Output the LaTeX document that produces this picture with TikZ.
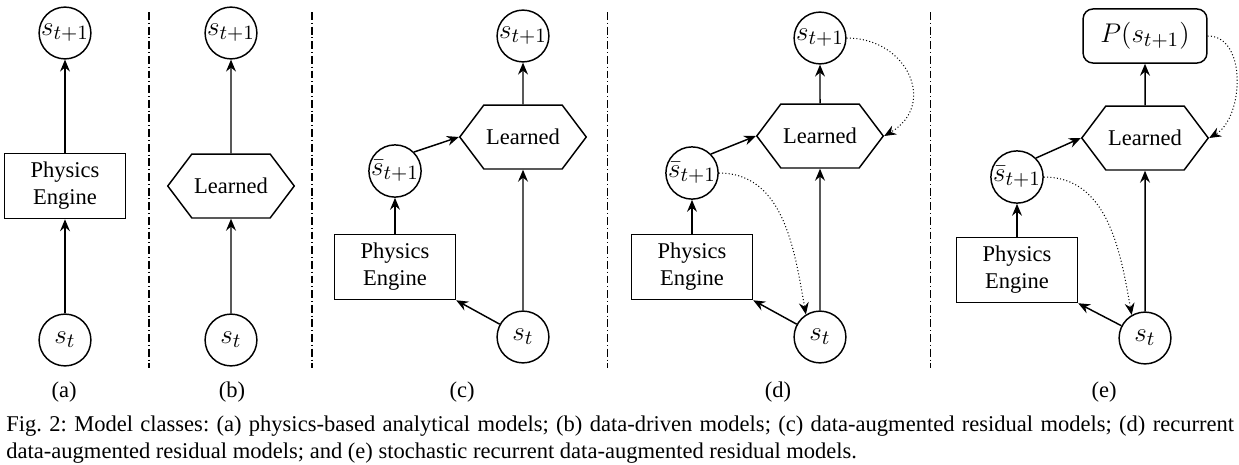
\documentclass[tikz,border=0pt]{standalone}
\usepackage{amsmath}
\usepackage{amssymb}
\usepackage{fontspec}
\setmainfont{Liberation Serif}
\usetikzlibrary{arrows.meta,shapes.symbols}

\begin{document}
\frenchspacing
\begin{tikzpicture}[x=0.444pt, y=0.444pt,
  >={Stealth[length=5.3pt, width=4.4pt, inset=1.8pt]},
  every node/.style={font=\fontsize{10}{12}\selectfont},
  state/.style={circle, draw, line width=0.65pt, minimum size=23pt, inner sep=0pt, font=\fontsize{13}{15}\selectfont},
  engine/.style={rectangle, draw, line width=0.65pt, minimum width=53.7pt, minimum height=28.9pt, align=center, inner sep=1pt},
  learned/.style={signal, signal to=east and west, signal pointer angle=106, draw, line width=0.65pt, minimum width=54pt, minimum height=28.4pt, inner sep=1pt},
  dist/.style={rectangle, rounded corners=4.4pt, draw, line width=0.65pt, minimum width=55pt, minimum height=24pt, font=\fontsize{13}{15}\selectfont},
  flow/.style={->, line width=0.65pt},
  feedback/.style={->, densely dotted, line width=0.45pt},
  divider/.style={line width=0.45pt, dash pattern=on 3.5pt off 1.3pt on 0.4pt off 1.3pt}]
\useasboundingbox (0,0) rectangle (1239,464);
% separators
\draw[divider] (149,452) -- (149,96);
\draw[divider] (312,452) -- (312,96);
\draw[divider] (607,452) -- (607,96);
\draw[divider] (930,452) -- (930,96);
% (a) analytical
\node[state] (s1a) at (65,431) {$s_{t+1}$};
\node[engine] (enga) at (65,278) {Physics\\Engine};
\node[state] (sa) at (65,124) {$s_t$};
\draw[flow] (sa) -- (enga);
\draw[flow] (enga) -- (s1a);
% (b) data-driven
\node[state] (s1b) at (231,431) {$s_{t+1}$};
\node[learned] (learnb) at (231,278) {Learned};
\node[state] (sb) at (231,124) {$s_t$};
\draw[flow] (sb) -- (learnb);
\draw[flow] (learnb) -- (s1b);
% (c) residual
\node[state] (s1c) at (523,428) {$s_{t+1}$};
\node[learned] (learnc) at (523,327) {Learned};
\node[state] (sbarc) at (395,293) {$\bar{s}_{t+1}$};
\node[engine] (engc) at (395,197) {Physics\\Engine};
\node[state] (sc) at (523,127) {$s_t$};
\draw[flow] (sc) -- (engc.south east);
\draw[flow] (sc) -- (learnc);
\draw[flow] (engc) -- (sbarc);
\draw[flow] (sbarc.45) -- (learnc.west);
\draw[flow] (learnc) -- (s1c);
% (d) recurrent residual
\node[state] (s1d) at (820,426) {$s_{t+1}$};
\node[learned] (learnd) at (820,328) {Learned};
\node[state] (sbard) at (692,291) {$\bar{s}_{t+1}$};
\node[engine] (engd) at (692,197) {Physics\\Engine};
\node[state] (sd) at (820,127) {$s_t$};
\draw[flow] (sd) -- (engd.south east);
\draw[flow] (sd) -- (learnd);
\draw[flow] (engd) -- (sbard);
\draw[flow] (sbard.45) -- (learnd.west);
\draw[flow] (learnd) -- (s1d);
\draw[feedback] (s1d.east) to[out=0, in=30, looseness=1.5] (learnd.east);
\draw[feedback] (sbard.east) to[out=0, in=100] (sd.122);
% (e) stochastic recurrent residual
\node[dist] (pe) at (1145,428) {$P(s_{t+1})$};
\node[learned] (learne) at (1145,326) {Learned};
\node[state] (sbare) at (1017,287) {$\bar{s}_{t+1}$};
\node[engine] (enge) at (1017,194) {Physics\\Engine};
\node[state] (se) at (1145,126) {$s_t$};
\draw[flow] (se) -- (enge.south east);
\draw[flow] (se) -- (learne);
\draw[flow] (enge) -- (sbare);
\draw[flow] (sbare.45) -- (learne.west);
\draw[flow] (learne) -- (pe);
\draw[feedback] (pe.east) to[out=0, in=30] (learne.east);
\draw[feedback] (sbare.east) to[out=0, in=100] (se.120);
% sub-captions
\node (laba) at (64,72) {(a)};
\node (labb) at (232,72) {(b)};
\node (labc) at (462,72) {(c)};
\node (labd) at (778,72) {(d)};
\node (labe) at (1104,72) {(e)};
\node[anchor=north west, inner sep=0pt, text width=545pt, align=justify] (caption) at (6,49)
  {Fig. 2: Model classes: (a) physics-based analytical models; (b) data-driven models; (c) data-augmented residual models; (d) recurrent\linebreak data-augmented residual models; and (e) stochastic recurrent data-augmented residual models.};
\end{tikzpicture}
\end{document}
